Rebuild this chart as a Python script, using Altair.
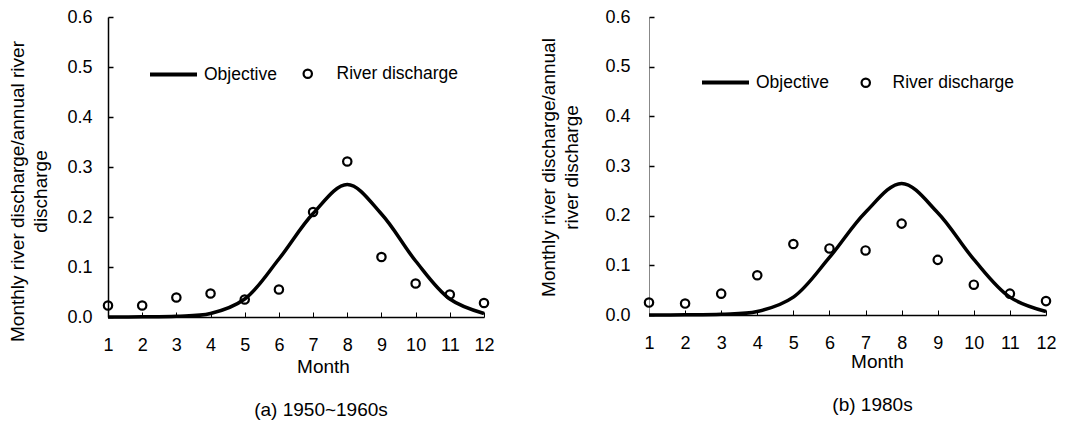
import altair as alt
import pandas as pd

# ---------------- data ----------------
months = [1, 2, 3, 4, 5, 6, 7, 8, 9, 10, 11, 12]
objective = [0.0, 0.0003, 0.0015, 0.007, 0.036, 0.116, 0.207, 0.265, 0.206, 0.112, 0.036, 0.007]
discharge_a = [0.023, 0.023, 0.039, 0.047, 0.035, 0.055, 0.210, 0.311, 0.120, 0.067, 0.045, 0.028]
discharge_b = [0.025, 0.023, 0.043, 0.080, 0.143, 0.134, 0.130, 0.184, 0.111, 0.061, 0.043, 0.028]
y_ticks = [0.0, 0.1, 0.2, 0.3, 0.4, 0.5, 0.6]
x_ticks = months
line_series = "Objective"
point_series = "River discharge"
x_title = "Month"
y_title_a = ["Monthly river discharge/annual river", "discharge"]
y_title_b = ["Monthly river discharge/annual", "river discharge"]
caption_a = "(a) 1950~1960s"
caption_b = "(b) 1980s"

FONT = "Liberation Sans"


def panel(obs, ytitle, caption, w, h, o):
    df_line = pd.DataFrame({"month": months, "value": objective, "series": line_series})
    df_pts = pd.DataFrame({"month": months, "value": obs, "series": point_series})
    xscale = alt.Scale(domain=[1, 12], nice=False, zero=False)
    yscale = alt.Scale(domain=[0, 0.6], nice=False, zero=True)

    pts = alt.Chart(df_pts).mark_point(
        filled=False, size=70, strokeWidth=2.2, color="black", opacity=1
    ).encode(
        x=alt.X("month:Q", scale=xscale, axis=alt.Axis(
            orient="bottom", values=x_ticks, format="d", title=x_title,
            ticks=False, grid=False, domainColor="black", domainWidth=1.5,
            labelFlush=False, labelPadding=o["xlp"], titlePadding=o["xtp"],
            titleX=o["xtx"])),
        y=alt.Y("value:Q", scale=yscale, axis=alt.Axis(
            orient="left", values=y_ticks, format=".1f", title=ytitle,
            ticks=False, grid=False, domainColor=o["ydc"], domainWidth=o["ydw"],
            labelFlush=False, labelPadding=o["ylp"], titlePadding=o["ytp"],
            titleY=o["yty"], titleLineHeight=23)),
        shape=alt.Shape("series:N", scale=alt.Scale(domain=[point_series], range=["circle"]),
                        legend=alt.Legend(orient="none", legendX=o["plx"], legendY=o["ply"],
                                          title=None, symbolSize=70, symbolStrokeWidth=2.2,
                                          symbolStrokeColor="black", symbolFillColor="transparent",
                                          labelOffset=o["plo"], padding=0)),
    )

    line = alt.Chart(df_line).mark_line(
        interpolate="catmull-rom", strokeWidth=3.5
    ).encode(
        x=alt.X("month:Q", scale=xscale, axis=alt.Axis(
            orient="bottom", offset=-5, values=x_ticks, labels=False, domain=False,
            tickSize=5, tickColor="black", tickWidth=1, grid=False, title=None)),
        y=alt.Y("value:Q", scale=yscale, axis=alt.Axis(
            orient="left", offset=-5, values=y_ticks, labels=False, domain=False,
            tickSize=5, tickColor="black", tickWidth=1.5, grid=False, title=None)),
        color=alt.Color("series:N", scale=alt.Scale(domain=[line_series], range=["black"]),
                        legend=alt.Legend(orient="none", legendX=o["llx"], legendY=o["lly"],
                                          title=None, symbolType="stroke", symbolSize=2209,
                                          symbolStrokeWidth=4, symbolStrokeColor="black",
                                          labelOffset=5, padding=0)),
    )

    return alt.layer(pts, line).resolve_axis(
        x="independent", y="independent"
    ).properties(
        width=w, height=h,
        title=alt.Title(caption, orient="bottom", anchor="middle", dx=o["cdx"],
                        offset=o["coff"], fontSize=19, font=FONT, fontWeight="normal",
                        color="black"),
    )


opts_a = dict(xlp=19, xtp=3, xtx=215, ydc="black", ydw=1.5, ylp=16, ytp=16, yty=174,
              llx=40, lly=32, plx=191, ply=48, plo=20, cdx=25, coff=25)
opts_b = dict(xlp=19, xtp=0, xtx=228, ydc="#888888", ydw=1, ylp=19, ytp=23, yty=150,
              llx=51, lly=40, plx=208, ply=57, plo=18, cdx=25, coff=25)

left = panel(discharge_a, y_title_a, caption_a, 376, 300, opts_a)
right = panel(discharge_b, y_title_b, caption_b, 397, 298, opts_b)

chart = alt.hconcat(left, right, spacing=44).resolve_scale(
    color="independent", shape="independent"
).resolve_legend(
    color="independent", shape="independent"
).properties(
    padding={"left": 0, "top": 0, "right": 0, "bottom": 0}
).configure_view(
    stroke=None
).configure_axis(
    labelFont=FONT, titleFont=FONT, labelFontSize=18, titleFontSize=19,
    titleFontWeight="normal", labelColor="black", titleColor="black"
).configure_legend(
    labelFont=FONT, labelFontSize=17.5, labelColor="black"
)

chart.save("out.html", embed_options={"renderer": "svg", "actions": False})
